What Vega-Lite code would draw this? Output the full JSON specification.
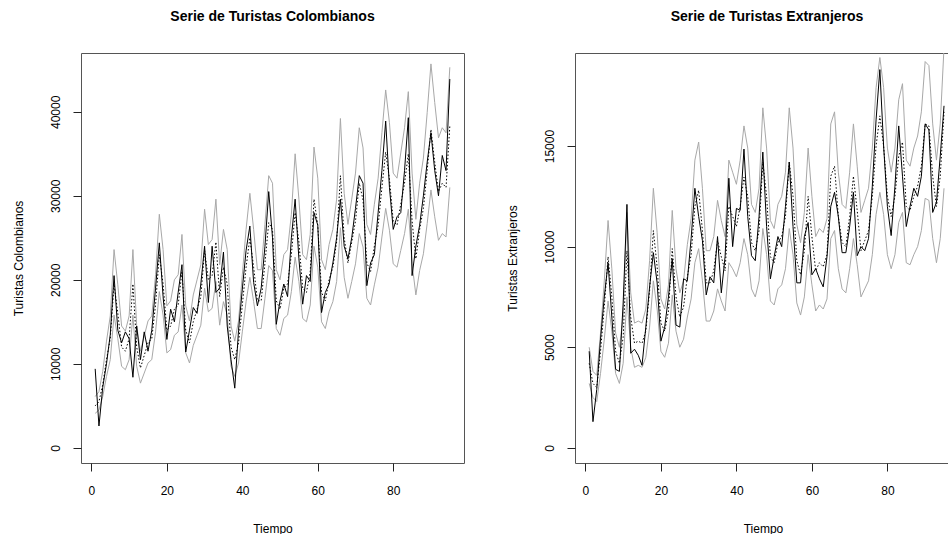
{
"$schema": "https://vega.github.io/schema/vega-lite/v6.json",
"padding": {"left": 11, "top": 9, "right": 0, "bottom": 0},
"spacing": 40,
"config": {
  "view": {"stroke": "#555", "strokeWidth": 1},
  "font": "Liberation Sans",
  "axis": {"domain": false, "grid": false, "tickColor": "#222", "tickSize": 8, "labelFontSize": 12, "labelColor": "#000", "titleFontSize": 12, "titleFontWeight": "normal", "titleColor": "#000", "labelFont": "Liberation Sans", "titleFont": "Liberation Sans"},
  "axisY": {"labelAngle": 270, "labelAlign": "center", "labelBaseline": "bottom", "labelPadding": 11, "minExtent": 40, "maxExtent": 40, "titlePadding": 16, "format": "d"},
  "axisX": {"labelPadding": 14, "titlePadding": 27, "labelFlush": false},
  "title": {"fontSize": 14, "fontWeight": "bold", "color": "#000", "offset": 29, "font": "Liberation Sans"}
},
"datasets": {
"col": [
{"t":1,"o":9400,"f":5000,"l":4100,"u":6100},
{"t":2,"o":2600,"f":5500,"l":4500,"u":6700},
{"t":3,"o":7200,"f":7500,"l":6100,"u":9100},
{"t":4,"o":10000,"f":10500,"l":8500,"u":12700},
{"t":5,"o":13500,"f":13000,"l":10500,"u":15700},
{"t":6,"o":20500,"f":19500,"l":15800,"u":23600},
{"t":7,"o":14000,"f":16000,"l":13000,"u":19400},
{"t":8,"o":12500,"f":12000,"l":9700,"u":14500},
{"t":9,"o":13800,"f":11500,"l":9300,"u":13900},
{"t":10,"o":13000,"f":13000,"l":10500,"u":15700},
{"t":11,"o":8400,"f":19500,"l":15800,"u":23600},
{"t":12,"o":14500,"f":12000,"l":9700,"u":14500},
{"t":13,"o":10500,"f":9500,"l":7700,"u":11500},
{"t":14,"o":13800,"f":11000,"l":8900,"u":13300},
{"t":15,"o":11500,"f":12500,"l":10100,"u":15100},
{"t":16,"o":14000,"f":13000,"l":10500,"u":15700},
{"t":17,"o":19000,"f":17000,"l":13800,"u":20600},
{"t":18,"o":24400,"f":23000,"l":18600,"u":27800},
{"t":19,"o":18000,"f":19500,"l":15800,"u":23600},
{"t":20,"o":12900,"f":14000,"l":11300,"u":16900},
{"t":21,"o":16500,"f":14500,"l":11700,"u":17500},
{"t":22,"o":15000,"f":16500,"l":13400,"u":20000},
{"t":23,"o":18500,"f":17000,"l":13800,"u":20600},
{"t":24,"o":21800,"f":21000,"l":17000,"u":25400},
{"t":25,"o":11400,"f":14000,"l":11300,"u":16900},
{"t":26,"o":14000,"f":12500,"l":10100,"u":15100},
{"t":27,"o":16700,"f":15000,"l":12200,"u":18200},
{"t":28,"o":16000,"f":16500,"l":13400,"u":20000},
{"t":29,"o":19500,"f":18000,"l":14600,"u":21800},
{"t":30,"o":24000,"f":23500,"l":19000,"u":28400},
{"t":31,"o":17300,"f":20000,"l":16200,"u":24200},
{"t":32,"o":24000,"f":20500,"l":16600,"u":24800},
{"t":33,"o":18500,"f":24500,"l":19800,"u":29600},
{"t":34,"o":19000,"f":18000,"l":14600,"u":21800},
{"t":35,"o":23300,"f":21500,"l":17400,"u":26000},
{"t":36,"o":14500,"f":19500,"l":15800,"u":23600},
{"t":37,"o":10500,"f":12000,"l":9700,"u":14500},
{"t":38,"o":7100,"f":10500,"l":8500,"u":12700},
{"t":39,"o":14000,"f":12500,"l":10100,"u":15100},
{"t":40,"o":18900,"f":17000,"l":13800,"u":20600},
{"t":41,"o":23500,"f":21500,"l":17400,"u":26000},
{"t":42,"o":26400,"f":25000,"l":20300,"u":30300},
{"t":43,"o":19700,"f":21500,"l":17400,"u":26000},
{"t":44,"o":16900,"f":17500,"l":14200,"u":21200},
{"t":45,"o":19000,"f":17500,"l":14200,"u":21200},
{"t":46,"o":24000,"f":22000,"l":17800,"u":26600},
{"t":47,"o":30500,"f":26800,"l":21700,"u":32400},
{"t":48,"o":25000,"f":26000,"l":21100,"u":31500},
{"t":49,"o":14700,"f":17500,"l":14200,"u":21200},
{"t":50,"o":17500,"f":16500,"l":13400,"u":20000},
{"t":51,"o":19500,"f":19000,"l":15400,"u":23000},
{"t":52,"o":18000,"f":19500,"l":15800,"u":23600},
{"t":53,"o":25000,"f":23000,"l":18600,"u":27800},
{"t":54,"o":29600,"f":28000,"l":22700,"u":35000},
{"t":55,"o":22500,"f":24500,"l":19800,"u":29600},
{"t":56,"o":17100,"f":19000,"l":15400,"u":23000},
{"t":57,"o":20500,"f":18500,"l":15000,"u":22400},
{"t":58,"o":19800,"f":21000,"l":17000,"u":25400},
{"t":59,"o":28000,"f":29600,"l":24000,"u":35800},
{"t":60,"o":26500,"f":26500,"l":21500,"u":32100},
{"t":61,"o":16100,"f":18500,"l":15000,"u":22400},
{"t":62,"o":18500,"f":17500,"l":14200,"u":21200},
{"t":63,"o":19500,"f":20000,"l":16200,"u":24200},
{"t":64,"o":22000,"f":21500,"l":17400,"u":26000},
{"t":65,"o":25000,"f":24500,"l":19800,"u":29600},
{"t":66,"o":29600,"f":32400,"l":26200,"u":39200},
{"t":67,"o":24000,"f":25000,"l":20300,"u":30300},
{"t":68,"o":22500,"f":22000,"l":17800,"u":26600},
{"t":69,"o":25000,"f":24500,"l":19800,"u":29600},
{"t":70,"o":28500,"f":27000,"l":21900,"u":32700},
{"t":71,"o":32400,"f":31500,"l":25500,"u":38100},
{"t":72,"o":31500,"f":29500,"l":23900,"u":35700},
{"t":73,"o":19300,"f":22000,"l":17800,"u":26600},
{"t":74,"o":22000,"f":21000,"l":17000,"u":25400},
{"t":75,"o":23000,"f":24000,"l":19400,"u":29000},
{"t":76,"o":28000,"f":26500,"l":21500,"u":32100},
{"t":77,"o":33000,"f":31000,"l":25100,"u":37500},
{"t":78,"o":38900,"f":35200,"l":28500,"u":42600},
{"t":79,"o":31000,"f":32000,"l":25900,"u":38700},
{"t":80,"o":26000,"f":27000,"l":21900,"u":32700},
{"t":81,"o":27500,"f":26500,"l":21500,"u":32100},
{"t":82,"o":28000,"f":29000,"l":23500,"u":35100},
{"t":83,"o":33000,"f":31500,"l":25500,"u":38100},
{"t":84,"o":39300,"f":35000,"l":28400,"u":42400},
{"t":85,"o":20500,"f":27000,"l":21900,"u":32700},
{"t":86,"o":24000,"f":22500,"l":18200,"u":27200},
{"t":87,"o":26500,"f":26000,"l":21100,"u":31500},
{"t":88,"o":30000,"f":28500,"l":23100,"u":34500},
{"t":89,"o":34000,"f":33000,"l":26700,"u":39900},
{"t":90,"o":37500,"f":37900,"l":30700,"u":45700},
{"t":91,"o":33000,"f":34000,"l":27500,"u":41100},
{"t":92,"o":30000,"f":30500,"l":24700,"u":36900},
{"t":93,"o":34800,"f":31500,"l":25500,"u":38100},
{"t":94,"o":33000,"f":31000,"l":25100,"u":37500},
{"t":95,"o":43900,"f":38300,"l":31000,"u":45300}
],
"ext": [
{"t":1,"o":4800,"f":4200,"l":3200,"u":5000},
{"t":2,"o":1300,"f":3200,"l":2500,"u":3800},
{"t":3,"o":2900,"f":3000,"l":2300,"u":3600},
{"t":4,"o":5400,"f":4800,"l":3700,"u":5700},
{"t":5,"o":7500,"f":7000,"l":5400,"u":8300},
{"t":6,"o":9200,"f":9500,"l":7300,"u":11300},
{"t":7,"o":6500,"f":7500,"l":5800,"u":8900},
{"t":8,"o":3900,"f":4800,"l":3700,"u":5700},
{"t":9,"o":3800,"f":4200,"l":3200,"u":5000},
{"t":10,"o":7200,"f":5500,"l":4200,"u":6500},
{"t":11,"o":12100,"f":9800,"l":7500,"u":11700},
{"t":12,"o":4700,"f":6500,"l":5000,"u":7700},
{"t":13,"o":4900,"f":5200,"l":4000,"u":6200},
{"t":14,"o":4600,"f":5300,"l":4100,"u":6300},
{"t":15,"o":4100,"f":5200,"l":4000,"u":6200},
{"t":16,"o":6000,"f":5800,"l":4500,"u":6900},
{"t":17,"o":8000,"f":7800,"l":6000,"u":9300},
{"t":18,"o":9700,"f":10800,"l":8300,"u":12900},
{"t":19,"o":8200,"f":9000,"l":6900,"u":10700},
{"t":20,"o":5300,"f":6200,"l":4800,"u":7400},
{"t":21,"o":6000,"f":5800,"l":4500,"u":6900},
{"t":22,"o":7500,"f":6800,"l":5200,"u":8100},
{"t":23,"o":9400,"f":9900,"l":7600,"u":11800},
{"t":24,"o":6100,"f":7500,"l":5800,"u":8900},
{"t":25,"o":6000,"f":6500,"l":5000,"u":7700},
{"t":26,"o":8400,"f":7000,"l":5400,"u":8300},
{"t":27,"o":8300,"f":8500,"l":6500,"u":10100},
{"t":28,"o":10400,"f":9600,"l":7400,"u":11400},
{"t":29,"o":12900,"f":12000,"l":9200,"u":14300},
{"t":30,"o":11500,"f":12800,"l":9900,"u":15200},
{"t":31,"o":10300,"f":10800,"l":8300,"u":12900},
{"t":32,"o":7600,"f":8200,"l":6300,"u":9800},
{"t":33,"o":8500,"f":8200,"l":6300,"u":9800},
{"t":34,"o":8200,"f":8800,"l":6800,"u":10500},
{"t":35,"o":10500,"f":10300,"l":7900,"u":12300},
{"t":36,"o":7700,"f":9500,"l":7300,"u":11300},
{"t":37,"o":9500,"f":8800,"l":6800,"u":10500},
{"t":38,"o":13400,"f":12000,"l":9200,"u":14300},
{"t":39,"o":10000,"f":11500,"l":8900,"u":13700},
{"t":40,"o":11900,"f":11000,"l":8500,"u":13100},
{"t":41,"o":11800,"f":12000,"l":9200,"u":14300},
{"t":42,"o":14850,"f":13450,"l":10400,"u":16000},
{"t":43,"o":11500,"f":12500,"l":9600,"u":14900},
{"t":44,"o":9550,"f":10200,"l":7900,"u":12100},
{"t":45,"o":9300,"f":9800,"l":7500,"u":11700},
{"t":46,"o":11500,"f":10800,"l":8300,"u":12900},
{"t":47,"o":14700,"f":14200,"l":10900,"u":16900},
{"t":48,"o":11000,"f":12500,"l":9600,"u":14900},
{"t":49,"o":8400,"f":9500,"l":7300,"u":11300},
{"t":50,"o":9500,"f":9200,"l":7100,"u":10900},
{"t":51,"o":10500,"f":10200,"l":7900,"u":12100},
{"t":52,"o":10000,"f":10500,"l":8100,"u":12500},
{"t":53,"o":12000,"f":11500,"l":8900,"u":13700},
{"t":54,"o":14200,"f":14200,"l":10900,"u":16900},
{"t":55,"o":11000,"f":12500,"l":9600,"u":14900},
{"t":56,"o":8200,"f":9300,"l":7200,"u":11100},
{"t":57,"o":8200,"f":8600,"l":6600,"u":10200},
{"t":58,"o":10500,"f":9800,"l":7500,"u":11700},
{"t":59,"o":11200,"f":12500,"l":9600,"u":14900},
{"t":60,"o":8600,"f":10500,"l":8100,"u":12500},
{"t":61,"o":8900,"f":8800,"l":6800,"u":10500},
{"t":62,"o":8400,"f":9200,"l":7100,"u":10900},
{"t":63,"o":8000,"f":9000,"l":6900,"u":10700},
{"t":64,"o":9500,"f":9600,"l":7400,"u":11400},
{"t":65,"o":12000,"f":13500,"l":10400,"u":16100},
{"t":66,"o":12700,"f":14000,"l":10800,"u":16700},
{"t":67,"o":11500,"f":11500,"l":8900,"u":13700},
{"t":68,"o":9700,"f":10200,"l":7900,"u":12100},
{"t":69,"o":9700,"f":10000,"l":7700,"u":11900},
{"t":70,"o":11000,"f":11500,"l":8900,"u":13700},
{"t":71,"o":12700,"f":13500,"l":10400,"u":16100},
{"t":72,"o":9550,"f":11800,"l":9100,"u":14000},
{"t":73,"o":10000,"f":9800,"l":7500,"u":11700},
{"t":74,"o":9800,"f":10300,"l":7900,"u":12300},
{"t":75,"o":10400,"f":10800,"l":8300,"u":12900},
{"t":76,"o":13000,"f":12500,"l":9600,"u":14900},
{"t":77,"o":16300,"f":15000,"l":11600,"u":17900},
{"t":78,"o":18800,"f":16500,"l":12700,"u":19400},
{"t":79,"o":15000,"f":15000,"l":11600,"u":17900},
{"t":80,"o":12000,"f":12500,"l":9600,"u":14900},
{"t":81,"o":10550,"f":11500,"l":8900,"u":13700},
{"t":82,"o":13000,"f":12500,"l":9600,"u":14900},
{"t":83,"o":16000,"f":14500,"l":11200,"u":17300},
{"t":84,"o":13500,"f":15200,"l":11700,"u":18100},
{"t":85,"o":11000,"f":12000,"l":9200,"u":14300},
{"t":86,"o":12000,"f":11800,"l":9100,"u":14000},
{"t":87,"o":12900,"f":12500,"l":9600,"u":14900},
{"t":88,"o":12500,"f":13000,"l":10000,"u":15500},
{"t":89,"o":13500,"f":14000,"l":10800,"u":16700},
{"t":90,"o":16100,"f":16100,"l":12400,"u":19200},
{"t":91,"o":15800,"f":16000,"l":12300,"u":19000},
{"t":92,"o":11700,"f":13500,"l":10400,"u":16100},
{"t":93,"o":12200,"f":12000,"l":9200,"u":14300},
{"t":94,"o":14500,"f":13500,"l":10400,"u":16100},
{"t":95,"o":17000,"f":16700,"l":12900,"u":19900}
]
},
"hconcat": [
{
  "width": 383, "height": 410,
  "title": {"text": "Serie de Turistas Colombianos"},
  "data": {"name": "col"},
  "encoding": {
    "x": {"field": "t", "type": "quantitative", "scale": {"domain": [-2.76, 98.76], "nice": false, "zero": false},
          "axis": {"values": [0, 20, 40, 60, 80], "title": "Tiempo"}}
  },
  "layer": [
    {"mark": {"type": "line", "stroke": "#a8a8a8", "strokeWidth": 1, "clip": true},
     "encoding": {"y": {"field": "u", "type": "quantitative", "scale": {"domain": [-1808, 47000], "nice": false, "zero": false},
       "axis": {"values": [0, 10000, 20000, 30000, 40000], "title": "Turistas Colombianos"}}}},
    {"mark": {"type": "line", "stroke": "#a8a8a8", "strokeWidth": 1, "clip": true},
     "encoding": {"y": {"field": "l", "type": "quantitative",
       "axis": {"values": [0, 10000, 20000, 30000, 40000], "title": "Turistas Colombianos"}}}},
    {"mark": {"type": "line", "stroke": "#000", "strokeWidth": 1, "strokeDash": [1.5, 2], "clip": true},
     "encoding": {"y": {"field": "f", "type": "quantitative",
       "axis": {"values": [0, 10000, 20000, 30000, 40000], "title": "Turistas Colombianos"}}}},
    {"mark": {"type": "line", "stroke": "#000", "strokeWidth": 1, "clip": true},
     "encoding": {"y": {"field": "o", "type": "quantitative",
       "axis": {"values": [0, 10000, 20000, 30000, 40000], "title": "Turistas Colombianos"}}}}
  ]
},
{
  "width": 376, "height": 410,
  "title": {"text": "Serie de Turistas Extranjeros", "dx": 4},
  "data": {"name": "ext"},
  "encoding": {
    "x": {"field": "t", "type": "quantitative", "scale": {"domain": [-2.76, 96.85], "nice": false, "zero": false},
          "axis": {"values": [0, 20, 40, 60, 80], "title": "Tiempo"}}
  },
  "layer": [
    {"mark": {"type": "line", "stroke": "#a8a8a8", "strokeWidth": 1, "clip": true},
     "encoding": {"y": {"field": "u", "type": "quantitative", "scale": {"domain": [-755, 19625], "nice": false, "zero": false},
       "axis": {"values": [0, 5000, 10000, 15000], "title": "Turistas Extranjeros"}}}},
    {"mark": {"type": "line", "stroke": "#a8a8a8", "strokeWidth": 1, "clip": true},
     "encoding": {"y": {"field": "l", "type": "quantitative",
       "axis": {"values": [0, 5000, 10000, 15000], "title": "Turistas Extranjeros"}}}},
    {"mark": {"type": "line", "stroke": "#000", "strokeWidth": 1, "strokeDash": [1.5, 2], "clip": true},
     "encoding": {"y": {"field": "f", "type": "quantitative",
       "axis": {"values": [0, 5000, 10000, 15000], "title": "Turistas Extranjeros"}}}},
    {"mark": {"type": "line", "stroke": "#000", "strokeWidth": 1, "clip": true},
     "encoding": {"y": {"field": "o", "type": "quantitative",
       "axis": {"values": [0, 5000, 10000, 15000], "title": "Turistas Extranjeros"}}}}
  ]
}
]
}
